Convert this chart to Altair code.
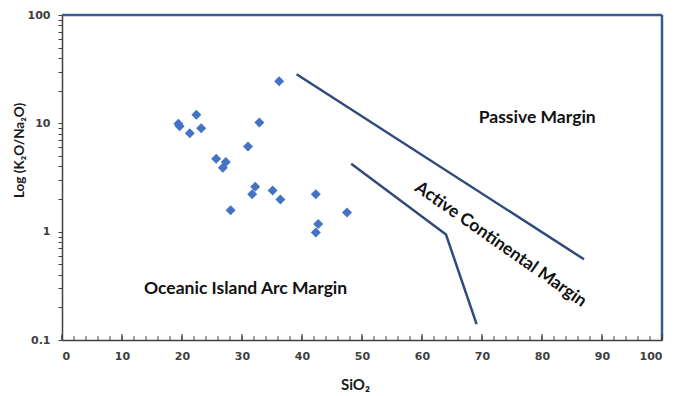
import altair as alt
import pandas as pd

# sample points (SiO2, K2O/Na2O)
sio2 = [36.2, 22.4, 19.4, 19.6, 21.3, 23.2, 32.9, 31.0, 25.7, 27.3, 26.8,
        32.2, 31.7, 35.1, 36.4, 42.3, 47.5, 28.1, 42.7, 42.3]
ratio = [24.5, 12.0, 9.9, 9.4, 8.1, 9.0, 10.2, 6.1, 4.7, 4.4, 3.9,
         2.6, 2.22, 2.4, 1.98, 2.22, 1.5, 1.58, 1.18, 0.98]

# discrimination boundaries
line_seg = ["upper", "upper", "lower", "lower", "lower"]
line_order = [0, 1, 0, 1, 2]
line_x = [39.1, 87.0, 48.2, 64.0, 69.1]
line_y = [28.4, 0.556, 4.24, 0.94, 0.14]

# field labels
lab_text = ["Passive Margin", "Active Continental Margin", "Oceanic Island Arc  Margin"]
lab_x = [79.2, 73.1, 30.6]
lab_y = [11.3, 0.76, 0.294]
lab_angle = [0, 35, 0]

x_minor = list(range(0, 101, 2))
x_major = list(range(0, 101, 10))
y_ticks = [0.1, 0.2, 0.3, 0.4, 0.5, 0.6, 0.7, 0.8, 0.9,
           1, 2, 3, 4, 5, 6, 7, 8, 9,
           10, 20, 30, 40, 50, 60, 70, 80, 90, 100]

pts = pd.DataFrame({"x": sio2, "y": ratio})
lines = pd.DataFrame({"seg": line_seg, "o": line_order, "x": line_x, "y": line_y})
labs = pd.DataFrame({"t": lab_text, "x": lab_x, "y": lab_y, "a": lab_angle})

W, H = 600, 325
AX = "#404040"
LBL_FONT = "DejaVu Sans"
TXT_FONT = "Lato"

xs = alt.Scale(domain=[0, 100], nice=False, zero=False)
ys = alt.Scale(type="log", domain=[0.1, 100], nice=False)

xaxis = alt.Axis(values=x_major, ticks=False, grid=False, domainColor=AX, domainWidth=1.5,
                 labelFont=LBL_FONT, labelFontWeight="bold", labelFontSize=11,
                 labelColor=AX, labelPadding=10, title="SiO₂", titleFont=TXT_FONT,
                 titleFontSize=15, titleFontWeight="bold", titleColor="#1a1a1a",
                 titlePadding=16, titleX=293)
yaxis = alt.Axis(values=y_ticks, grid=False, domainColor=AX, domainWidth=1.5,
                 tickColor=AX, tickSize=4, tickWidth=1,
                 labelExpr="(datum.value==0.1||datum.value==1||datum.value==10||datum.value==100) ? datum.label : ''",
                 format="~g", labelOverlap=False,
                 labelFont=LBL_FONT, labelFontWeight="bold", labelFontSize=11,
                 labelColor=AX, labelPadding=8, title="Log (K₂O/Na₂O)",
                 titleFont=TXT_FONT, titleFontSize=13.5, titleFontWeight="bold",
                 titleColor="#1a1a1a", titleX=-36, titleY=135)

points = alt.Chart(pts).mark_point(shape="diamond", filled=True, size=100,
                                   color="#4472C4", opacity=1).encode(
    x=alt.X("x:Q", scale=xs, axis=xaxis),
    y=alt.Y("y:Q", scale=ys, axis=yaxis),
)

bounds = alt.Chart(lines).mark_line(color="#2E4B7C", strokeWidth=2.5).encode(
    x=alt.X("x:Q", scale=xs),
    y=alt.Y("y:Q", scale=ys),
    detail="seg:N",
    order="o:Q",
)

texts = alt.Chart(labs).mark_text(font=TXT_FONT, fontWeight="bold", fontSize=17.5,
                                  color="#111111", align="center", baseline="middle").encode(
    x=alt.X("x:Q", scale=xs),
    y=alt.Y("y:Q", scale=ys),
    text="t:N",
    angle=alt.Angle("a:Q", scale=None),
)

minor_df = pd.DataFrame({"x": x_minor})
major_df = pd.DataFrame({"x": x_major})
xminor = alt.Chart(minor_df).mark_rule(color=AX, strokeWidth=1).encode(
    x=alt.X("x:Q", scale=xs), y=alt.value(H), y2=alt.value(H - 4))
xmajor = alt.Chart(major_df).mark_rule(color=AX, strokeWidth=1.2).encode(
    x=alt.X("x:Q", scale=xs), y=alt.value(H + 1), y2=alt.value(H - 6))

frame_top = alt.Chart(pd.DataFrame({"k": [0]})).mark_rule(color="#3A5A92", strokeWidth=2.5).encode(
    x=alt.value(0), x2=alt.value(W), y=alt.value(0))
frame_right = alt.Chart(pd.DataFrame({"k": [0]})).mark_rule(color="#3A5A92", strokeWidth=2.5).encode(
    x=alt.value(W), y=alt.value(0), y2=alt.value(H))

chart = alt.layer(frame_top, frame_right, xminor, xmajor, bounds, points, texts).properties(
    width=W, height=H,
    autosize=alt.AutoSizeParams(type="none"),
    padding={"left": 62, "top": 15, "right": 11, "bottom": 56},
    background="white",
).configure_view(stroke=None)

chart.save("out.html", embed_options={"renderer": "svg", "actions": False})
